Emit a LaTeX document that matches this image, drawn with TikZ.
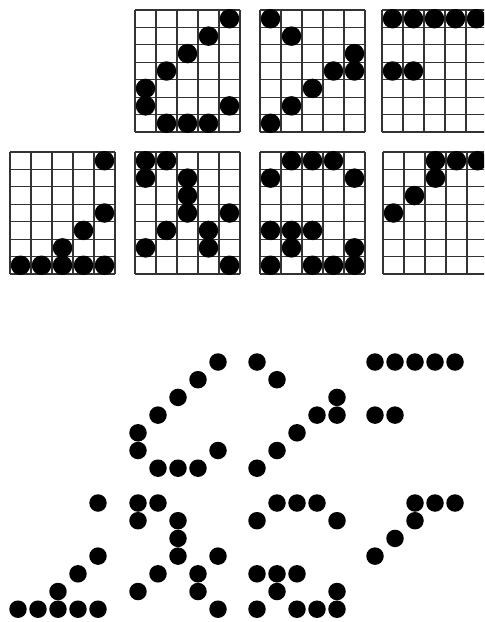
\documentclass[tikz,border=0pt]{standalone}
\usepackage{tikz}

% dot patterns, column/row (rows counted from the top)
\def\glyphA{5/1,4/2,3/3,2/4,1/5,1/6,5/6,2/7,3/7,4/7}
\def\glyphB{1/1,2/2,5/3,4/4,5/4,3/5,2/6,1/7}
\def\glyphC{1/1,2/1,3/1,4/1,5/1,1/4,2/4}
\def\glyphD{5/1,5/4,4/5,3/6,1/7,2/7,3/7,4/7,5/7}
\def\glyphE{1/1,2/1,1/2,3/2,3/3,3/4,5/4,2/5,4/5,1/6,4/6,5/7}
\def\glyphF{2/1,3/1,4/1,1/2,5/2,1/5,2/5,3/5,2/6,5/6,1/7,3/7,4/7,5/7}
\def\glyphG{3/1,4/1,5/1,3/2,2/3,1/4}

% grid with dots: left, top, pattern
\newcommand{\gridglyph}[3]{%
  \foreach \i in {0,...,5}
    \draw[gridline] ({#1+21*\i},#2) -- ++(0,122);
  \foreach \j in {0,...,7}
    \draw[gridline] (#1,{#2+122*\j/7}) -- ++(105,0);
  \foreach \c/\r in #3
    \fill[bigdot] ({#1+21*\c-10.5},{#2+122*\r/7-61/7}) circle[radius=0.195cm];
}
% dots only: centre of first column, centre of first row, pattern
\newcommand{\dotglyph}[3]{%
  \foreach \c/\r in #3
    \fill[smalldot] ({#1+20*(\c-1)},{#2+17.7*(\r-1)}) circle[radius=0.175cm];
}

\begin{document}
\begin{tikzpicture}[x=0.02cm,y=-0.02cm,
  gridline/.style={black!80,line width=0.7pt},
  bigdot/.style={black},
  smalldot/.style={black}]
  \useasboundingbox[fill=white] (0,0) rectangle (484,622);
  \clip (0,0) rectangle (484,622);

  % upper half: letters on grids
  \gridglyph{135}{10}{\glyphA}
  \gridglyph{260}{10}{\glyphB}
  \gridglyph{382}{10}{\glyphC}
  \gridglyph{10}{152}{\glyphD}
  \gridglyph{135}{152}{\glyphE}
  \gridglyph{260}{152}{\glyphF}
  \gridglyph{383}{152}{\glyphG}

  % lower half: the same letters, dots only
  \dotglyph{138}{362}{\glyphA}
  \dotglyph{257}{362}{\glyphB}
  \dotglyph{375}{362}{\glyphC}
  \dotglyph{18}{503}{\glyphD}
  \dotglyph{138}{503}{\glyphE}
  \dotglyph{257}{503}{\glyphF}
  \dotglyph{375}{503}{\glyphG}
\end{tikzpicture}
\end{document}
